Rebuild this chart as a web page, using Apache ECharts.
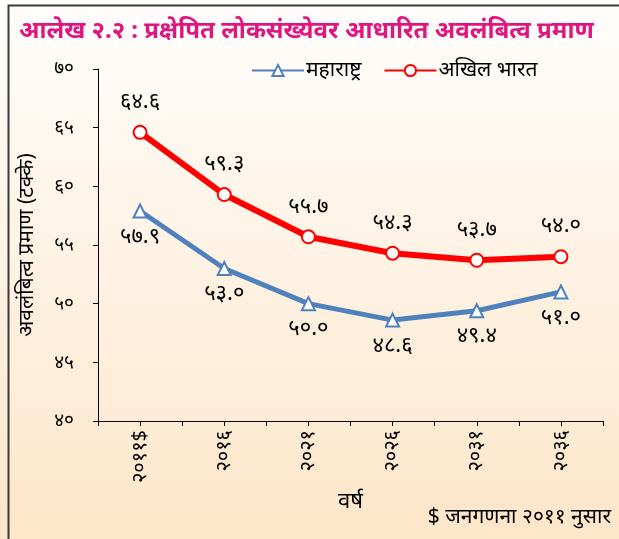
<!DOCTYPE html>
<html>
<head>
<meta charset="utf-8">
<script src="https://cdn.jsdelivr.net/npm/echarts@6/dist/echarts.min.js"></script>
<style>
  html, body { margin: 0; padding: 0; background: #fff; }
  #chart { width: 619px; height: 539px; }
</style>
</head>
<body>
<div id="chart"></div>
<script>
// data
const years = ["२०११$", "२०१६", "२०२१", "२०२६", "२०३१", "२०३६"];
const maharashtra = [57.9, 53.0, 50.0, 48.6, 49.4, 51.0];
const allIndia = [64.6, 59.3, 55.7, 54.3, 53.7, 54.0];
const seriesNames = ["महाराष्ट्र", "अखिल भारत"];

const FONT = "'Noto Sans', 'Noto Sans Devanagari', sans-serif";

// अंक -> देवनागरी
const devDigits = "०१२३४५६७८९";
const toDev = (s) => String(s).replace(/[0-9]/g, (d) => devDigits[+d]);

const chart = echarts.init(document.getElementById("chart"), null, { renderer: "canvas" });

chart.setOption({
  backgroundColor: {
    type: "linear", x: 0, y: 0, x2: 0, y2: 1,
    colorStops: [
      { offset: 0, color: "#fffefd" },
      { offset: 1, color: "#fde6c9" },
    ],
  },
  title: {
    text: "आलेख २.२ : प्रक्षेपित लोकसंख्येवर आधारित अवलंबित्व प्रमाण",
    left: 14, top: 14,
    textStyle: { color: "#e0157f", fontSize: 24, fontWeight: "bold", fontFamily: FONT },
  },
  legend: {
    left: 246, top: 55,
    itemWidth: 52, itemHeight: 14, itemGap: 22,
    textStyle: { color: "#000", fontSize: 21, fontFamily: FONT, padding: [0, 0, 0, -3] },
    data: seriesNames,
  },
  grid: { left: 98, right: 16, top: 69, bottom: 118 },
  xAxis: [
    {
      type: "category",
      data: years,
      name: "वर्ष",
      nameLocation: "middle",
      nameGap: 67,
      nameTextStyle: { color: "#000", fontSize: 22, fontFamily: FONT },
      axisLine: { lineStyle: { color: "#000", width: 1 } },
      axisTick: { show: true, length: 5, lineStyle: { color: "#000" } },
      axisLabel: { rotate: 90, margin: 9, color: "#000", fontSize: 20, fontFamily: FONT },
    },
    {
      // ticks at category centres
      type: "category",
      data: years,
      position: "bottom",
      axisLine: { show: false },
      axisTick: { show: true, alignWithLabel: true, length: 5, lineStyle: { color: "#000" } },
      axisLabel: { show: false },
    },
  ],
  yAxis: {
    type: "value",
    min: 40, max: 70, interval: 5,
    name: "अवलंबित्व प्रमाण (टक्के)",
    nameLocation: "middle",
    nameGap: 60,
    nameTextStyle: { color: "#000", fontSize: 21, fontFamily: FONT },
    axisLine: { show: true, lineStyle: { color: "#000" } },
    axisTick: { show: true, length: 5, lineStyle: { color: "#000" } },
    splitLine: { show: false },
    axisLabel: { margin: 24, color: "#000", fontSize: 19, fontFamily: FONT, formatter: (v) => toDev(v) },
  },
  graphic: [
    {
      type: "text",
      right: 8, top: 507,
      style: { text: "$ जनगणना २०११ नुसार", fill: "#000", font: "21px " + FONT },
    },
    {
      type: "rect",
      left: 6, top: 3,
      shape: { width: 700, height: 600 },
      style: { fill: "none", stroke: "#3a3a3a", lineWidth: 2 },
      silent: true,
    },
  ],
  series: [
    {
      name: seriesNames[0],
      type: "line",
      data: maharashtra,
      symbol: "triangle",
      symbolSize: 13,
      color: "#4f81bd",
      lineStyle: { color: "#4f81bd", width: 5 },
      itemStyle: { color: "#fff", borderColor: "#4f81bd", borderWidth: 2 },
      label: {
        show: true, position: "bottom", distance: 7,
        color: "#000", fontSize: 22, fontFamily: FONT,
        formatter: (p) => toDev(p.value.toFixed(1)),
      },
    },
    {
      name: seriesNames[1],
      type: "line",
      data: allIndia,
      symbol: "circle",
      symbolSize: 13,
      color: "#ff0000",
      lineStyle: { color: "#ff0000", width: 6 },
      itemStyle: { color: "#fff", borderColor: "#ff0000", borderWidth: 2 },
      label: {
        show: true, position: "top", distance: 12,
        color: "#000", fontSize: 22, fontFamily: FONT,
        formatter: (p) => toDev(p.value.toFixed(1)),
      },
    },
  ],
});
</script>
</body>
</html>
